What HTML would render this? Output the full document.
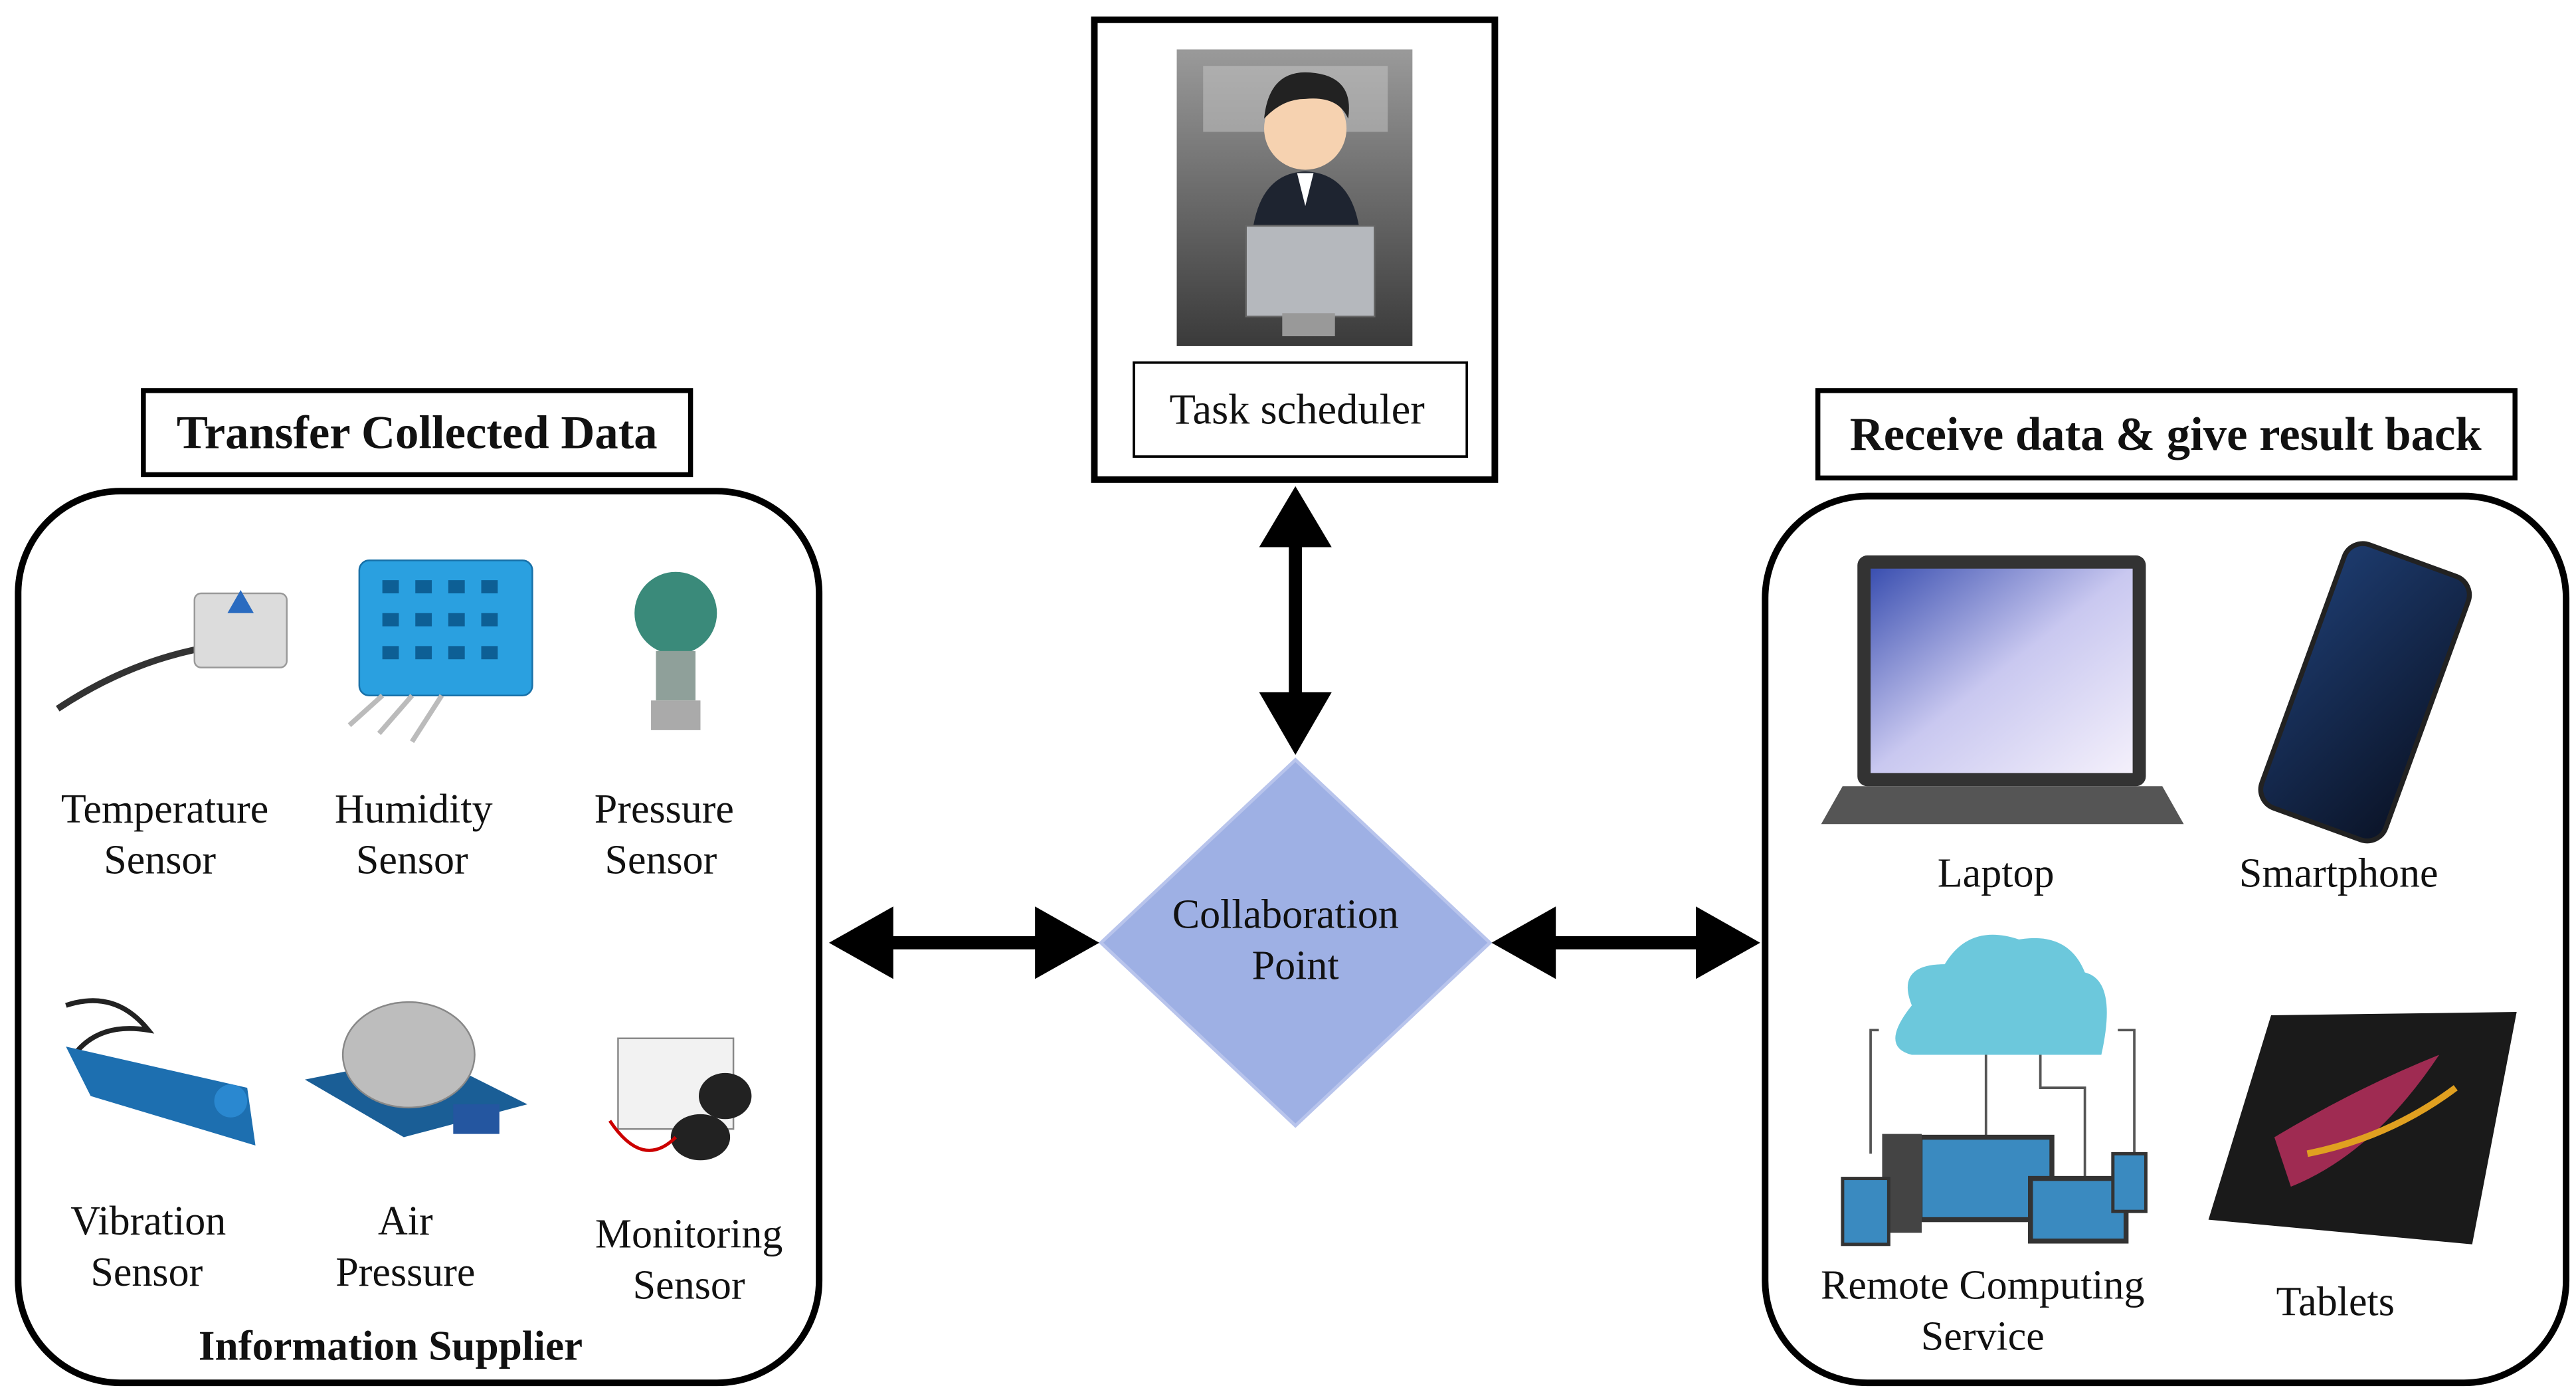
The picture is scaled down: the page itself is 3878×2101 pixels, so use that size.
<!DOCTYPE html>
<html><head><meta charset="utf-8"><style>
html,body{margin:0;padding:0;background:#fff;}
svg{display:block;}
text{font-family:"Liberation Serif",serif;fill:#111;}
</style></head><body>
<svg width="3878" height="2101" viewBox="0 0 1563 847" preserveAspectRatio="none" xmlns="http://www.w3.org/2000/svg">
<defs>
<linearGradient id="scr" x1="0" y1="0" x2="1" y2="1"><stop offset="0" stop-color="#3a4fb0"/><stop offset="0.5" stop-color="#c9c8f0"/><stop offset="1" stop-color="#f4f0fb"/></linearGradient>
<linearGradient id="ph" x1="0" y1="0" x2="1" y2="1"><stop offset="0" stop-color="#1d3b6e"/><stop offset="1" stop-color="#0b1428"/></linearGradient>
<linearGradient id="room" x1="0" y1="0" x2="0" y2="1"><stop offset="0" stop-color="#9a9a9a"/><stop offset="1" stop-color="#3a3a3a"/></linearGradient>
</defs>

<rect x="664" y="12" width="243" height="279" fill="#fff" stroke="#000" stroke-width="4"/>
<rect x="714" y="30" width="143" height="180" fill="url(#room)"/>
<rect x="730" y="40" width="112" height="40" fill="#c8c8c8" opacity="0.5"/>
<circle cx="792" cy="78" r="25" fill="#f6d2b0"/>
<path d="M767 72 Q770 42 795 44 Q822 46 818 72 Q812 58 792 60 Q778 60 767 72Z" fill="#222"/>
<path d="M760 140 Q765 105 792 104 Q820 105 825 140Z" fill="#1e2430"/>
<path d="M787 105 L792 125 L797 105Z" fill="#fff"/>
<rect x="756" y="137" width="78" height="55" fill="#b5b8bd" stroke="#666"/>
<rect x="778" y="190" width="32" height="14" fill="#999"/>
<rect x="688" y="220" width="202" height="57" fill="#fff" stroke="#000" stroke-width="1.5"/>
<text x="787" y="257" font-size="26" text-anchor="middle">Task scheduler</text>

<rect x="87" y="237" width="332" height="51" fill="#fff" stroke="#000" stroke-width="3"/>
<text x="253" y="272" font-size="28.5" font-weight="bold" text-anchor="middle">Transfer Collected Data</text>
<rect x="1103" y="237" width="423" height="53" fill="#fff" stroke="#000" stroke-width="3"/>
<text x="1314" y="273" font-size="28.5" font-weight="bold" text-anchor="middle">Receive data &amp; give result back</text>

<rect x="11" y="298" width="486" height="541" rx="62" fill="none" stroke="#000" stroke-width="4"/>
<rect x="1071" y="301" width="486" height="538" rx="62" fill="none" stroke="#000" stroke-width="4"/>

<g>
<path d="M35 430 Q80 400 130 392" stroke="#333" stroke-width="4" fill="none"/>
<rect x="118" y="360" width="56" height="45" rx="4" fill="#dcdcdc" stroke="#999"/>
<polygon points="138,372 146,358 154,372" fill="#2a6bc0"/>
<g fill="#2aa0e0" stroke="#1770a8"><rect x="218" y="340" width="105" height="82" rx="6"/></g>
<g fill="#0d5f95"><rect x="232" y="352" width="10" height="8"/><rect x="252" y="352" width="10" height="8"/><rect x="272" y="352" width="10" height="8"/><rect x="292" y="352" width="10" height="8"/><rect x="232" y="372" width="10" height="8"/><rect x="252" y="372" width="10" height="8"/><rect x="272" y="372" width="10" height="8"/><rect x="292" y="372" width="10" height="8"/><rect x="232" y="392" width="10" height="8"/><rect x="252" y="392" width="10" height="8"/><rect x="272" y="392" width="10" height="8"/><rect x="292" y="392" width="10" height="8"/></g>
<g stroke="#bbb" stroke-width="3"><line x1="232" y1="422" x2="212" y2="440"/><line x1="250" y1="422" x2="230" y2="445"/><line x1="268" y1="422" x2="250" y2="450"/></g>
<circle cx="410" cy="372" r="25" fill="#3a8a7a"/><rect x="398" y="395" width="24" height="30" fill="#8fa09a"/><rect x="395" y="425" width="30" height="18" fill="#aaa"/>
<path d="M40 610 Q70 600 90 625 Q60 620 45 640" stroke="#222" stroke-width="3" fill="none"/>
<polygon points="40,635 150,660 155,695 55,665" fill="#1d6fb0"/>
<circle cx="140" cy="668" r="10" fill="#2a88d0"/>
<polygon points="185,655 260,640 320,670 245,690" fill="#1a5e96"/>
<ellipse cx="248" cy="640" rx="40" ry="32" fill="#bdbdbd" stroke="#888"/>
<rect x="275" y="670" width="28" height="18" fill="#2456a0"/>
<rect x="375" y="630" width="70" height="55" fill="#f2f2f2" stroke="#888"/>
<ellipse cx="425" cy="690" rx="18" ry="14" fill="#222"/><ellipse cx="440" cy="665" rx="16" ry="14" fill="#222"/>
<path d="M370 680 Q390 710 410 690" stroke="#c00" stroke-width="2" fill="none"/>
</g>

<g font-size="25" text-anchor="middle">
<text x="100" y="499">Temperature</text><text x="97" y="530">Sensor</text>
<text x="251" y="499">Humidity</text><text x="250" y="530">Sensor</text>
<text x="403" y="499">Pressure</text><text x="401" y="530">Sensor</text>
<text x="90" y="749">Vibration</text><text x="89" y="780">Sensor</text>
<text x="246" y="749">Air</text><text x="246" y="780">Pressure</text>
<text x="418" y="757">Monitoring</text><text x="418" y="788">Sensor</text>
</g>
<text x="237" y="825" font-size="25.5" font-weight="bold" text-anchor="middle">Information  Supplier</text>

<rect x="1127" y="337" width="175" height="140" rx="6" fill="#333"/>
<rect x="1135" y="345" width="159" height="124" fill="url(#scr)"/>
<polygon points="1118,477 1312,477 1325,500 1105,500" fill="#555"/>
<g transform="rotate(20 1435 420)"><rect x="1395" y="335" width="80" height="170" rx="12" fill="url(#ph)" stroke="#222" stroke-width="3"/></g>
<path d="M1160 610 Q1150 585 1180 585 Q1195 560 1225 570 Q1255 565 1265 590 Q1285 595 1275 640 L1160 640 Q1140 635 1160 610Z" fill="#6cc8dc"/>
<g stroke="#555" stroke-width="1.5" fill="none"><path d="M1140 625 L1135 625 L1135 700"/><path d="M1285 625 L1295 625 L1295 700"/><line x1="1205" y1="640" x2="1205" y2="690"/><path d="M1238 640 L1238 660 L1265 660 L1265 715"/></g>
<rect x="1165" y="690" width="80" height="50" fill="#3a8ac0" stroke="#333" stroke-width="3"/>
<rect x="1142" y="688" width="24" height="60" fill="#444"/>
<rect x="1118" y="715" width="28" height="40" fill="#3a8ac0" stroke="#333" stroke-width="2"/>
<rect x="1232" y="715" width="58" height="38" fill="#3a8ac0" stroke="#333" stroke-width="3"/>
<rect x="1282" y="700" width="20" height="35" fill="#3a8ac0" stroke="#333" stroke-width="2"/>
<polygon points="1378,616 1527,614 1500,755 1340,740" fill="#1a1a1a"/>
<path d="M1380 690 Q1430 660 1480 640 Q1440 700 1390 720Z" fill="#c03060" opacity="0.8"/>
<path d="M1400 700 Q1450 690 1490 660" stroke="#e0a020" stroke-width="4" fill="none"/>
<g font-size="25" text-anchor="middle">
<text x="1211" y="538">Laptop</text>
<text x="1419" y="538">Smartphone</text>
<text x="1203" y="788">Remote  Computing</text><text x="1203" y="819">Service</text>
<text x="1417" y="798">Tablets</text>
</g>

<polygon points="786,461 904,572 786,683 668,572" fill="#9eb0e4" stroke="#b8c4ec" stroke-width="2"/>
<text x="780" y="563" font-size="25" text-anchor="middle">Collaboration</text>
<text x="786" y="594" font-size="25" text-anchor="middle">Point</text>

<g fill="#000">
<rect x="782" y="320" width="8" height="115"/>
<polygon points="786,295 764,332 808,332"/>
<polygon points="786,458 764,420 808,420"/>
<rect x="530" y="568" width="110" height="8"/>
<polygon points="503,572 542,550 542,594"/>
<polygon points="667,572 628,550 628,594"/>
<rect x="932" y="568" width="110" height="8"/>
<polygon points="905,572 944,550 944,594"/>
<polygon points="1068,572 1029,550 1029,594"/>
</g>
</svg>
</body></html>
